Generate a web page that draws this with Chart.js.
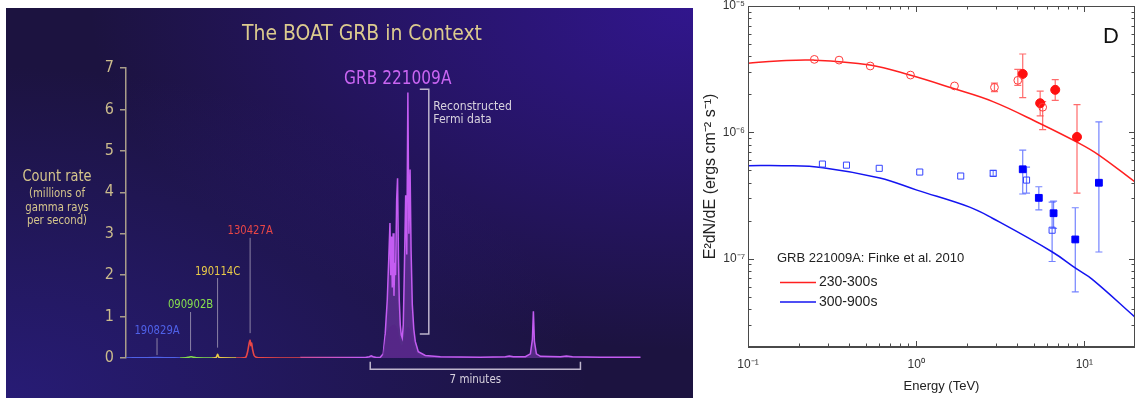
<!DOCTYPE html>
<html lang="en">
<head>
<meta charset="UTF-8">
<title>GRB 221009A</title>
<style>
  body {
    margin: 0;
    width: 1135px;
    height: 398px;
    background: #fff;
    position: relative;
    overflow: hidden;
  }

  /* left infographic panel */
  .panel {
    position: absolute;
    left: 6px;
    top: 8px;
    width: 687px;
    height: 390px;
    background:
      radial-gradient(ellipse at 100% 0%, rgba(50, 22, 145, 0.95), rgba(50, 22, 145, 0) 62%),
      radial-gradient(ellipse at 0% 100%, rgba(40, 28, 120, 0.95), rgba(40, 28, 120, 0) 60%),
      #1c1340;
    font-family: 'DejaVu Sans Condensed', 'Liberation Sans Narrow', 'DejaVu Sans', sans-serif;
    font-stretch: condensed;
  }
  .panel canvas { position: absolute; left: 0; top: 0; }

  .title {
    position: absolute;
    left: 356px;
    top: 12px;
    transform: translateX(-50%) scaleX(0.95);
    white-space: nowrap;
    font-size: 22px;
    color: #dccb8e;
  }
  .ylabel {
    position: absolute;
    left: 51px;
    top: 158px;
    transform: translateX(-50%) scaleX(0.9);
    text-align: center;
    white-space: nowrap;
    color: #d6c68c;
  }
  .ylabel .main { font-size: 16px; line-height: 20px; }
  .ylabel .sub { font-size: 12.5px; line-height: 13.5px; }

  /* right SED panel */
  .sed { position: absolute; left: 700px; top: 0; }
</style>
<script src="https://cdn.jsdelivr.net/npm/chart.js"></script>
</head>
<body>
  <div class="panel">
    <canvas id="curveChart" width="687" height="390"></canvas>
    <div class="title">The BOAT GRB in Context</div>
    <div class="ylabel">
      <div class="main">Count rate</div>
      <div class="sub">(millions of<br>gamma rays<br>per second)</div>
    </div>
  </div>
  <canvas id="sedChart" class="sed" width="435" height="398"></canvas>

<script>
// ---------- light curves (time in s, rate in millions of gamma rays / s) ----------
const t190829A = [0, 30, 62, 85, 108];
const r190829A = [0, 0.004, 0.012, 0.004, 0];
const t090902B = [108, 120, 126, 130, 134, 140, 172];
const r090902B = [0, 0.006, 0.02, 0.03, 0.02, 0.006, 0];
const t190114C = [172, 180, 182, 183, 184, 186, 220];
const r190114C = [0, 0.01, 0.06, 0.09, 0.06, 0.01, 0];
const t130427A = [220, 236, 240, 243, 246, 248, 249.5, 251, 253, 256, 260, 270, 348];
const r130427A = [0, 0.005, 0.03, 0.15, 0.35, 0.43, 0.3, 0.36, 0.2, 0.06, 0.02, 0.005, 0];
const t221009A = [348, 478, 486, 490, 494, 500, 508, 514, 518, 522, 525, 527.4, 529, 530.6, 532,
  533.8, 535.4, 537, 538.6, 540.8, 542.6, 544.4, 546, 548, 550, 552, 554, 556, 558.8, 561, 563.2,
  565.2, 567.6, 569.6, 572, 575, 578, 584, 598, 628, 708, 758, 766, 774, 798, 808, 812, 814, 816,
  820, 828, 868, 880, 892, 948, 1028];
const r221009A = [0.01, 0.01, 0.03, 0.05, 0.03, 0.01, 0.02, 0.1, 0.6, 1.4, 2.4, 3.26, 2.0, 2.93, 1.7,
  3.01, 1.5, 2.3, 2.0, 3.83, 4.34, 2.4, 1.4, 0.8, 0.55, 0.48, 0.8, 2.0, 3.93, 2.5, 6.41,
  3.0, 4.55, 2.6, 1.3, 0.7, 0.4, 0.15, 0.06, 0.03, 0.02, 0.03, 0.05, 0.03, 0.03, 0.1, 0.45, 1.13, 0.4,
  0.1, 0.04, 0.03, 0.05, 0.03, 0.02, 0.02];
// measured (saturated) Fermi envelope under the reconstructed curve
const tFermi = [512, 516, 520, 528, 536, 542, 546, 550, 554, 558, 564, 570, 574, 580, 590];
const rFermi = [0, 0.3, 0.6, 0.75, 0.8, 0.7, 0.45, 0.3, 0.35, 0.6, 0.75, 0.6, 0.35, 0.12, 0.03];

const burstNames = ['190829A', '090902B', '190114C', '130427A'];
const burstTimes = [62, 129, 183, 248];
const burstColors = ['#4f61e8', '#86de4e', '#eacb48', '#e84646'];
const windowStart = 488;   // start of the 7 minute window (s)
const windowMinutes = 7;

// ---------- SED (energy in TeV, E^2 dN/dE in erg cm^-2 s^-1) ----------
const eRedOpen = [0.248, 0.348, 0.533, 0.925, 1.69, 2.92, 4.02, 5.65];
const fRedOpen = [3.78e-6, 3.73e-6, 3.35e-6, 2.84e-6, 2.33e-6, 2.27e-6, 2.58e-6, 1.58e-6];
const loRedOpen = [null, null, null, null, null, 2.1e-6, 2.35e-6, 1.05e-6];
const hiRedOpen = [null, null, null, null, null, 2.45e-6, 3.15e-6, 1.75e-6];

const eRedFilled = [4.30, 5.46, 6.71, 9.04];
const fRedFilled = [2.9e-6, 1.70e-6, 2.17e-6, 9.2e-7];
const loRedFilled = [1.88e-6, 1.35e-6, 1.79e-6, 3.3e-7];
const hiRedFilled = [4.17e-6, 2.12e-6, 2.61e-6, 1.66e-6];

const eBlueOpen = [0.277, 0.385, 0.603, 1.05, 1.84, 2.87, 4.53, 6.43];
const fBlueOpen = [5.61e-7, 5.5e-7, 5.19e-7, 4.85e-7, 4.51e-7, 4.73e-7, 4.19e-7, 1.68e-7];
const loBlueOpen = [null, null, null, null, null, 4.5e-7, 3.3e-7, 9.5e-8];
const hiBlueOpen = [null, null, null, null, null, 5.0e-7, 5.3e-7, 2.8e-7];

const eBlueFilled = [4.30, 5.36, 6.56, 8.83, 12.2];
const fBlueFilled = [5.1e-7, 3.03e-7, 2.29e-7, 1.42e-7, 3.99e-7];
const loBlueFilled = [3.25e-7, 2.43e-7, 1.74e-7, 5.47e-8, 1.13e-7];
const hiBlueFilled = [7.24e-7, 3.71e-7, 2.85e-7, 2.53e-7, 1.21e-6];

const eModelRed = [0.1, 0.15, 0.245, 0.531, 0.917, 1.65, 2.86, 5.40, 9.33, 12.2, 20];
const fModelRed = [3.52e-6, 3.67e-6, 3.73e-6, 3.41e-6, 2.84e-6, 2.23e-6, 1.75e-6, 1.18e-6, 8.18e-7, 6.61e-7, 4.05e-7];
const eModelBlue = [0.1, 0.16, 0.279, 0.608, 1.01, 2.08, 2.84, 6.45, 9.0, 11.1, 20];
const fModelBlue = [5.45e-7, 5.45e-7, 5.25e-7, 4.35e-7, 3.49e-7, 2.56e-7, 2.09e-7, 1.13e-7, 8.3e-8, 6.9e-8, 3.45e-8];

const modelLabels = ['230-300s', '300-900s'];
const legendTitle = 'GRB 221009A: Finke et al. 2010';
const xTickValues = [0.1, 1, 10];
const xTickLabels = ['10\u207B\u00B9', '10\u2070', '10\u00B9'];
const yTickValues = [1e-7, 1e-6, 1e-5];
const yTickLabels = ['10\u207B\u2077', '10\u207B\u2076', '10\u207B\u2075'];

function pts(xs, ys) {
  return xs.map((x, i) => ({ x: x, y: ys[i] }));
}

const condensed = '"DejaVu Sans Condensed", "Liberation Sans Narrow", "DejaVu Sans", sans-serif';

// draw text squeezed horizontally (the poster uses a narrow typeface)
function narrowText(ctx, text, x, y, sx) {
  ctx.save();
  ctx.translate(x, y);
  ctx.scale(sx, 1);
  ctx.fillText(text, 0, 0);
  ctx.restore();
}

// ================= left chart =================
const notes = {
  label: [0.65, 1.28, 2.08, 3.07],
  top: [0.48, 1.11, 1.93, 2.9],
  bottom: [0.07, 0.17, 0.25, 0.6]
};

const curveNotes = {
  id: 'curveNotes',
  afterDatasetsDraw(chart) {
    const { ctx, scales: { x, y } } = chart;
    ctx.save();
    if ('fontStretch' in ctx) ctx.fontStretch = 'condensed';
    ctx.textAlign = 'center';
    ctx.textBaseline = 'middle';
    ctx.lineWidth = 1;

    // burst names with leader lines
    ctx.font = '13px ' + condensed;
    burstNames.forEach((name, i) => {
      const px = x.getPixelForValue(burstTimes[i]);
      ctx.strokeStyle = 'rgba(175, 165, 190, 0.75)';
      ctx.beginPath();
      ctx.moveTo(px, y.getPixelForValue(notes.top[i]));
      ctx.lineTo(px, y.getPixelForValue(notes.bottom[i]));
      ctx.stroke();
      ctx.fillStyle = burstColors[i];
      narrowText(ctx, name, px, y.getPixelForValue(notes.label[i]), 0.86);
    });

    // GRB 221009A
    ctx.font = '19px ' + condensed;
    ctx.fillStyle = '#c965f2';
    narrowText(ctx, 'GRB 221009A', x.getPixelForValue(543), y.getPixelForValue(6.73), 0.9);

    // bracket for reconstructed data
    ctx.strokeStyle = '#bdb5cc';
    ctx.lineWidth = 1.5;
    const bx = x.getPixelForValue(605), bx0 = x.getPixelForValue(587);
    const by0 = y.getPixelForValue(6.49), by1 = y.getPixelForValue(0.58);
    ctx.beginPath();
    ctx.moveTo(bx0, by0); ctx.lineTo(bx, by0); ctx.lineTo(bx, by1); ctx.lineTo(bx0, by1);
    ctx.stroke();
    ctx.font = '12.5px ' + condensed;
    ctx.fillStyle = '#d8d2de';
    ctx.textAlign = 'left';
    narrowText(ctx, 'Reconstructed', x.getPixelForValue(614), y.getPixelForValue(6.06), 0.97);
    narrowText(ctx, 'Fermi data', x.getPixelForValue(614), y.getPixelForValue(5.76), 0.97);

    // 7 minutes bracket
    const wx0 = x.getPixelForValue(windowStart);
    const wx1 = x.getPixelForValue(windowStart + windowMinutes * 60);
    const wy = y.getPixelForValue(-0.27), wt = y.getPixelForValue(-0.09);
    ctx.beginPath();
    ctx.moveTo(wx0, wt); ctx.lineTo(wx0, wy); ctx.lineTo(wx1, wy); ctx.lineTo(wx1, wt);
    ctx.stroke();
    ctx.textAlign = 'center';
    ctx.font = '13px ' + condensed;
    narrowText(ctx, windowMinutes + ' minutes', (wx0 + wx1) / 2, y.getPixelForValue(-0.51), 0.88);
    ctx.restore();
  }
};

function burstLine(xs, ys, color) {
  return { data: pts(xs, ys), borderColor: color, borderWidth: 1.6, pointRadius: 0, fill: false, tension: 0.2 };
}

// baseline fades from the red of 130427A into the purple of 221009A
function fadeToPurple(c) {
  const { ctx, chartArea, scales } = c.chart;
  if (!chartArea) return '#c45cf2';
  const g = ctx.createLinearGradient(scales.x.getPixelForValue(300), 0, scales.x.getPixelForValue(470), 0);
  g.addColorStop(0, '#d9486e');
  g.addColorStop(1, '#c45cf2');
  return g;
}

new Chart(document.getElementById('curveChart'), {
  type: 'line',
  data: {
    datasets: [
      burstLine(t190829A, r190829A, burstColors[0]),
      burstLine(t090902B, r090902B, burstColors[1]),
      burstLine(t190114C, r190114C, burstColors[2]),
      burstLine(t130427A, r130427A, burstColors[3]),
      { data: pts(tFermi, rFermi), borderWidth: 0, pointRadius: 0, fill: 'origin',
        backgroundColor: 'rgba(85, 38, 135, 0.75)', tension: 0.3 },
      { data: pts(t221009A, r221009A), borderColor: fadeToPurple, borderWidth: 1.5, pointRadius: 0,
        fill: 'origin', backgroundColor: 'rgba(150, 70, 205, 0.45)', tension: 0 }
    ]
  },
  options: {
    responsive: false,
    animation: false,
    devicePixelRatio: 1,
    layout: { autoPadding: false, padding: { left: 0, top: 60, right: 52, bottom: 40 } },
    plugins: { legend: { display: false }, tooltip: { enabled: false } },
    scales: {
      x: { type: 'linear', min: 0, max: 1029, display: false },
      y: {
        min: 0, max: 7,
        afterFit(scale) { scale.width = 120; scale.paddingTop = 0; scale.paddingBottom = 0; },
        border: { color: '#a99d8a', width: 1.5 },
        grid: { drawOnChartArea: false, drawTicks: true, tickLength: 6, color: '#a99d8a', lineWidth: 1.5 },
        ticks: { stepSize: 1, color: '#cbbb8c', padding: 6, font: { family: condensed, size: 16 } }
      }
    }
  },
  plugins: [curveNotes]
});

// ================= right chart =================
const sans = 'Liberation Sans, Arial, sans-serif';

const errorBars = {
  id: 'errorBars',
  beforeDatasetsDraw(chart) {
    const { ctx, scales: { x, y } } = chart;
    ctx.save();
    chart.data.datasets.forEach(ds => {
      if (!ds.errLo) return;
      ctx.strokeStyle = ds.errColor;
      ctx.lineWidth = 1.2;
      ds.data.forEach((p, i) => {
        if (ds.errLo[i] == null) return;
        const px = x.getPixelForValue(p.x);
        const y0 = y.getPixelForValue(ds.errLo[i]);
        const y1 = y.getPixelForValue(ds.errHi[i]);
        ctx.beginPath();
        ctx.moveTo(px, y0); ctx.lineTo(px, y1);
        ctx.moveTo(px - 3.5, y0); ctx.lineTo(px + 3.5, y0);
        ctx.moveTo(px - 3.5, y1); ctx.lineTo(px + 3.5, y1);
        ctx.stroke();
      });
    });
    ctx.restore();
  }
};

function minorValues(min, max) {
  const out = [];
  for (let e = Math.floor(Math.log10(min)); e <= Math.ceil(Math.log10(max)); e++) {
    for (let k = 1; k < 10; k++) {
      const v = k * Math.pow(10, e);
      if (v >= min * 0.999 && v <= max * 1.001) out.push({ v: v, major: k === 1 });
    }
  }
  return out;
}

const boxTicks = {
  id: 'boxTicks',
  afterDatasetsDraw(chart) {
    const { ctx, chartArea: a, scales: { x, y } } = chart;
    ctx.save();
    ctx.strokeStyle = '#4a4a4a';
    ctx.lineWidth = 1;
    ctx.strokeRect(a.left + 0.5, a.top + 0.5, a.right - a.left - 1, a.bottom - a.top - 1);
    ctx.beginPath();
    minorValues(x.min, x.max).forEach(t => {
      const px = Math.round(x.getPixelForValue(t.v)) + 0.5;
      const len = t.major ? 6 : 3.5;
      ctx.moveTo(px, a.bottom); ctx.lineTo(px, a.bottom - len);
      ctx.moveTo(px, a.top); ctx.lineTo(px, a.top + len);
    });
    minorValues(y.min, y.max).forEach(t => {
      const py = Math.round(y.getPixelForValue(t.v)) + 0.5;
      const len = t.major ? 6 : 3.5;
      ctx.moveTo(a.left, py); ctx.lineTo(a.left + len, py);
      ctx.moveTo(a.right, py); ctx.lineTo(a.right - len, py);
    });
    ctx.stroke();
    ctx.restore();
  }
};

const sedNotes = {
  id: 'sedNotes',
  afterDraw(chart) {
    const { ctx } = chart;
    const ds = chart.data.datasets.filter(d => d.showLine);
    ctx.save();
    ctx.fillStyle = '#111';
    ctx.font = '22px ' + sans;
    ctx.textAlign = 'center';
    ctx.textBaseline = 'middle';
    ctx.fillText('D', 411, 37);

    ctx.textAlign = 'left';
    ctx.font = '13px ' + sans;
    ctx.fillStyle = '#222';
    ctx.fillText(legendTitle, 77, 258);
    ctx.font = '14px ' + sans;
    ds.forEach((d, i) => {
      const ly = 282.5 + i * 19.5;
      ctx.strokeStyle = d.borderColor;
      ctx.lineWidth = 1.5;
      ctx.beginPath();
      ctx.moveTo(80, ly); ctx.lineTo(116, ly);
      ctx.stroke();
      ctx.fillStyle = '#222';
      ctx.fillText(d.label, 119, ly);
    });
    ctx.restore();
  }
};

new Chart(document.getElementById('sedChart'), {
  type: 'scatter',
  data: {
    datasets: [
      { label: 'red open', data: pts(eRedOpen, fRedOpen), errLo: loRedOpen, errHi: hiRedOpen,
        errColor: 'rgba(255, 70, 70, 0.8)', pointStyle: 'circle', pointRadius: 3.9,
        borderColor: '#ff3a3a', backgroundColor: 'rgba(255,255,255,0)', borderWidth: 1 },
      { label: 'red filled', data: pts(eRedFilled, fRedFilled), errLo: loRedFilled, errHi: hiRedFilled,
        errColor: 'rgba(255, 70, 70, 0.8)', pointStyle: 'circle', pointRadius: 4.5,
        borderColor: '#ff1010', backgroundColor: '#ff1010', borderWidth: 1 },
      { label: 'blue open', data: pts(eBlueOpen, fBlueOpen), errLo: loBlueOpen, errHi: hiBlueOpen,
        errColor: 'rgba(70, 90, 255, 0.75)', pointStyle: 'rect', pointRadius: 4.3,
        borderColor: '#3444ff', backgroundColor: 'rgba(255,255,255,0)', borderWidth: 1 },
      { label: 'blue filled', data: pts(eBlueFilled, fBlueFilled), errLo: loBlueFilled, errHi: hiBlueFilled,
        errColor: 'rgba(70, 90, 255, 0.75)', pointStyle: 'rect', pointRadius: 4.8,
        borderColor: '#0000ff', backgroundColor: '#0000ff', borderWidth: 1 },
      { label: modelLabels[0], data: pts(eModelRed, fModelRed), showLine: true, pointRadius: 0,
        borderColor: '#ff2020', borderWidth: 1.5, tension: 0.4 },
      { label: modelLabels[1], data: pts(eModelBlue, fModelBlue), showLine: true, pointRadius: 0,
        borderColor: '#1414f0', borderWidth: 1.5, tension: 0.4 }
    ]
  },
  options: {
    responsive: false,
    animation: false,
    devicePixelRatio: 1,
    layout: { autoPadding: false, padding: { left: 0, top: 6, right: 0, bottom: 0 } },
    plugins: { legend: { display: false }, tooltip: { enabled: false } },
    scales: {
      x: {
        type: 'logarithmic', min: 0.1, max: 20,
        afterFit(scale) { scale.height = 51; scale.paddingLeft = 0; scale.paddingRight = 0; },
        afterBuildTicks(scale) { scale.ticks = xTickValues.map(v => ({ value: v })); },
        grid: { display: false, drawTicks: false },
        border: { color: '#4a4a4a' },
        ticks: { autoSkip: false, maxRotation: 0, padding: 10, color: '#333',
          font: { family: sans, size: 12 }, callback: (v, i) => xTickLabels[i] },
        title: { display: true, text: 'Energy (TeV)', color: '#222', font: { family: sans, size: 13 },
          padding: { top: 0, bottom: 4 } }
      },
      y: {
        type: 'logarithmic', min: 2e-8, max: 1e-5,
        afterFit(scale) { scale.width = 48; scale.paddingTop = 0; scale.paddingBottom = 0; },
        afterBuildTicks(scale) { scale.ticks = yTickValues.map(v => ({ value: v })); },
        grid: { display: false, drawTicks: false },
        border: { color: '#4a4a4a' },
        ticks: { autoSkip: false, padding: 3, color: '#333',
          font: { family: sans, size: 12 }, callback: (v, i) => yTickLabels[i] },
        title: { display: true, text: 'E\u00B2dN/dE (ergs cm\u207B\u00B2 s\u207B\u00B9)', color: '#222',
          font: { family: sans, size: 16 }, padding: { top: 1, bottom: 0 } }
      }
    }
  },
  plugins: [errorBars, boxTicks, sedNotes]
});
</script>
</body>
</html>
